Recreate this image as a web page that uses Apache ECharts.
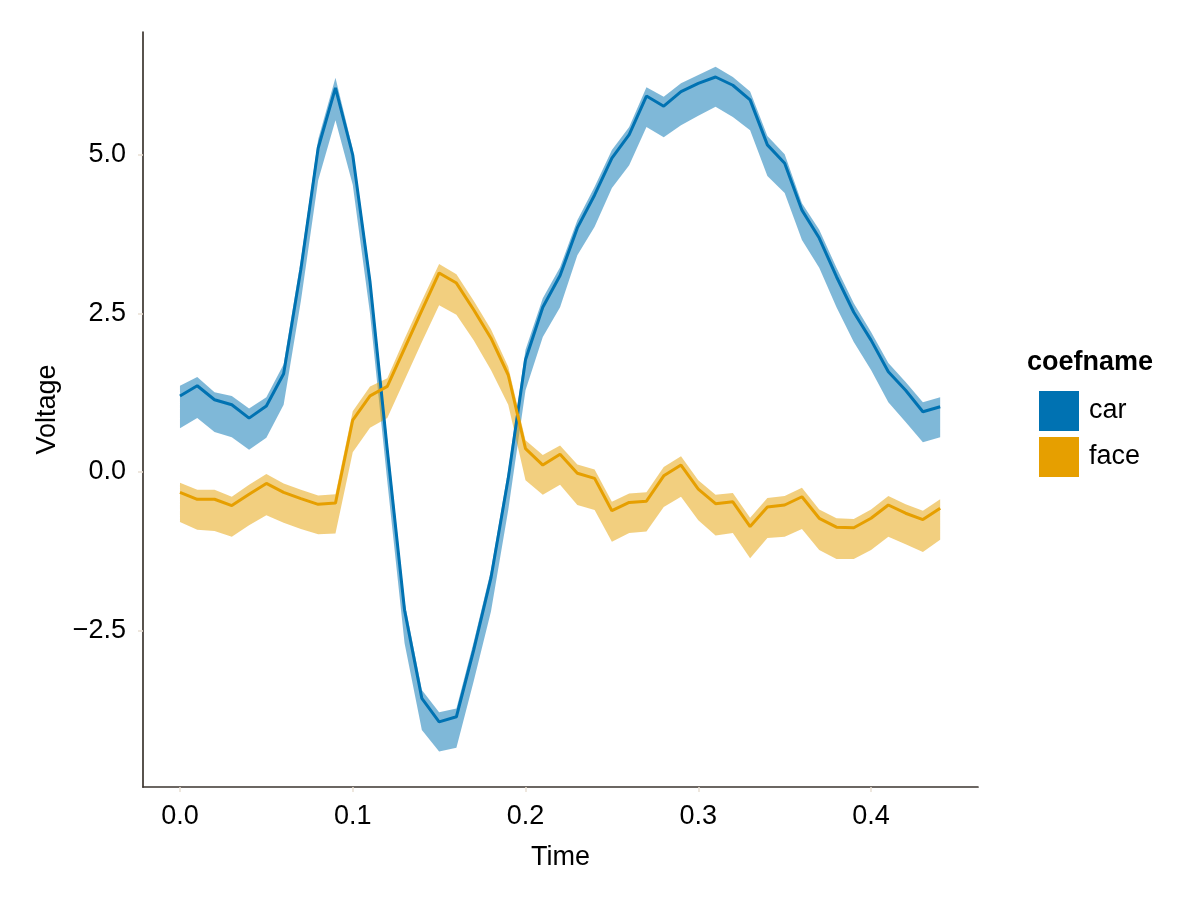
<!DOCTYPE html>
<html>
<head>
<meta charset="utf-8">
<script src="https://cdn.jsdelivr.net/npm/echarts@6/dist/echarts.min.js"></script>
<style>html,body{margin:0;padding:0;background:#fff}#c{width:1200px;height:900px}</style>
</head>
<body>
<div id="c"></div>
<script>
var time = [0.00,0.01,0.02,0.03,0.04,0.05,0.06,0.07,0.08,0.09,0.10,0.11,0.12,0.13,0.14,0.15,0.16,0.17,0.18,0.19,0.20,0.21,0.22,0.23,0.24,0.25,0.26,0.27,0.28,0.29,0.30,0.31,0.32,0.33,0.34,0.35,0.36,0.37,0.38,0.39,0.40,0.41,0.42,0.43,0.44];
var carMean  = [1.20,1.36,1.14,1.06,0.85,1.04,1.55,3.20,5.11,6.06,5.00,3.00,0.35,-2.18,-3.57,-3.94,-3.86,-2.81,-1.67,-0.10,1.77,2.60,3.10,3.85,4.37,4.95,5.32,5.93,5.77,6.00,6.13,6.23,6.10,5.87,5.16,4.87,4.13,3.69,3.08,2.52,2.08,1.58,1.29,0.95,1.03];
var carUpper = [1.36,1.50,1.26,1.20,1.00,1.18,1.70,3.35,5.25,6.22,5.10,3.12,0.50,-2.05,-3.44,-3.79,-3.73,-2.68,-1.55,0.03,1.93,2.74,3.23,3.97,4.50,5.08,5.44,6.07,5.92,6.13,6.26,6.39,6.23,6.00,5.30,5.01,4.24,3.82,3.22,2.66,2.21,1.72,1.42,1.10,1.18];
var carLower = [0.69,0.85,0.63,0.55,0.35,0.54,1.06,2.70,4.60,5.55,4.53,2.50,-0.15,-2.70,-4.07,-4.41,-4.35,-3.30,-2.20,-0.60,1.29,2.13,2.60,3.42,3.87,4.48,4.84,5.44,5.28,5.47,5.62,5.76,5.60,5.39,4.67,4.40,3.66,3.22,2.60,2.05,1.61,1.10,0.79,0.47,0.55];
var faceMean  = [-0.32,-0.43,-0.43,-0.53,-0.35,-0.18,-0.32,-0.42,-0.51,-0.49,0.82,1.20,1.35,1.95,2.55,3.14,2.98,2.56,2.11,1.53,0.37,0.11,0.28,-0.02,-0.10,-0.61,-0.48,-0.46,-0.06,0.11,-0.27,-0.50,-0.47,-0.86,-0.55,-0.52,-0.39,-0.73,-0.87,-0.88,-0.73,-0.52,-0.65,-0.75,-0.57];
var faceUpper = [-0.17,-0.28,-0.28,-0.39,-0.20,-0.03,-0.18,-0.28,-0.37,-0.35,0.96,1.35,1.48,2.10,2.70,3.28,3.12,2.70,2.25,1.66,0.50,0.27,0.42,0.12,0.04,-0.47,-0.34,-0.32,0.08,0.25,-0.13,-0.36,-0.33,-0.72,-0.41,-0.38,-0.25,-0.59,-0.73,-0.74,-0.59,-0.38,-0.51,-0.61,-0.43];
var faceLower = [-0.79,-0.91,-0.93,-1.02,-0.84,-0.68,-0.80,-0.90,-0.98,-0.97,0.31,0.70,0.85,1.45,2.05,2.63,2.48,2.08,1.61,1.06,-0.13,-0.36,-0.20,-0.52,-0.60,-1.10,-0.96,-0.94,-0.55,-0.39,-0.76,-1.00,-0.96,-1.36,-1.04,-1.02,-0.90,-1.23,-1.37,-1.37,-1.23,-1.02,-1.14,-1.26,-1.07];
var xTicks = [0.0,0.1,0.2,0.3,0.4];
var yTicks = [-2.5,0.0,2.5,5.0];
var seriesNames = ['car','face'];
var colors = ['#0072B2','#E69F00'];

var FONT = '"Liberation Sans", Arial, sans-serif';
var FS = 27;
var AXIS_COLOR = '#3b352f';
var TICK_COLOR = '#e9e0d4';

function pairs(xs, ys){ return xs.map(function(x,i){ return [x, ys[i]]; }); }

function bandSeries(name, lo, up, color){
  return {
    type:'custom', name:name+'_band', silent:true, z:1,
    data: time.map(function(t,i){ return [t, lo[i], up[i]]; }),
    encode:{x:0, y:[1,2]},
    renderItem:function(params, api){
      if (params.dataIndex !== 0) return null;
      var pts = [];
      for (var i = 0; i < time.length; i++) pts.push(api.coord([time[i], up[i]]));
      for (var j = time.length - 1; j >= 0; j--) pts.push(api.coord([time[j], lo[j]]));
      return {type:'polygon', shape:{points:pts}, style:{fill:color, opacity:0.5}};
    }
  };
}

var series = [];
series.push(bandSeries('car', carLower, carUpper, colors[0]));
series.push(bandSeries('face', faceLower, faceUpper, colors[1]));
series.push({type:'line', name:seriesNames[0], data:pairs(time, carMean), showSymbol:false, symbol:'none',
  lineStyle:{color:colors[0], width:3}, itemStyle:{color:colors[0]}, z:3, silent:true});
series.push({type:'line', name:seriesNames[1], data:pairs(time, faceMean), showSymbol:false, symbol:'none',
  lineStyle:{color:colors[1], width:3}, itemStyle:{color:colors[1]}, z:3, silent:true});

var chart = echarts.init(document.getElementById('c'), null, {renderer:'canvas'});
chart.setOption({
  animation:false,
  backgroundColor:'#ffffff',
  textStyle:{fontFamily:FONT},
  grid:{left:143, right:222, top:32, bottom:113, containLabel:false},
  xAxis:{
    type:'value', min:-0.0214, max:0.4619,
    name:'Time', nameLocation:'middle', nameGap:57,
    nameTextStyle:{fontFamily:FONT, fontSize:FS, color:'#000'},
    axisLine:{show:true, onZero:false, lineStyle:{color:AXIS_COLOR, width:1.7}},
    axisTick:{show:true, customValues:xTicks, length:5, lineStyle:{color:TICK_COLOR, width:1.5}},
    axisLabel:{customValues:xTicks, fontFamily:FONT, fontSize:FS, color:'#000', margin:16,
      formatter:function(v){ return v.toFixed(1); }},
    splitLine:{show:false}
  },
  yAxis:{
    type:'value', min:-4.968, max:6.94,
    name:'Voltage', nameLocation:'middle', nameGap:82, nameRotate:90,
    nameTextStyle:{fontFamily:FONT, fontSize:FS, color:'#000'},
    axisLine:{show:true, onZero:false, lineStyle:{color:AXIS_COLOR, width:1.7}},
    axisTick:{show:true, customValues:yTicks, length:5, lineStyle:{color:TICK_COLOR, width:1.5}},
    axisLabel:{customValues:yTicks, fontFamily:FONT, fontSize:FS, color:'#000', margin:17,
      formatter:function(v){ var s = Math.abs(v).toFixed(1); return v < 0 ? '\u2212' + s : s; }},
    splitLine:{show:false}
  },
  legend:{
    orient:'vertical', left:1039, top:391, padding:0, itemWidth:40, itemHeight:40, itemGap:6,
    icon:'rect', selectedMode:false,
    textStyle:{fontFamily:FONT, fontSize:FS, color:'#000', padding:[3,0,0,5]},
    data:[
      {name:seriesNames[0], icon:'rect', itemStyle:{color:colors[0]}},
      {name:seriesNames[1], icon:'rect', itemStyle:{color:colors[1]}}
    ]
  },
  graphic:[{
    type:'text', left:1027, top:349,
    style:{text:'coefname', fontFamily:FONT, fontSize:FS, fontWeight:'bold', fill:'#000'}
  }],
  series:series
});
</script>
</body>
</html>
